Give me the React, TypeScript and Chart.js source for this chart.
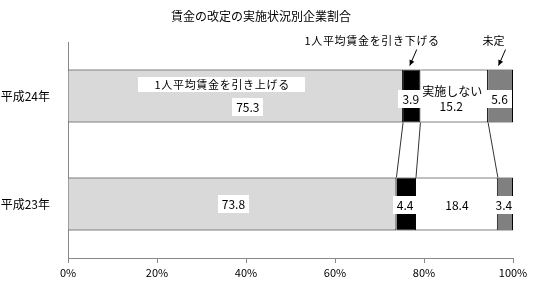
import React, { useEffect, useRef } from "react";
import { Chart, registerables } from "chart.js";

Chart.register(...registerables);

const chartTitle = "賃金の改定の実施状況別企業割合";
const categories = ["平成24年", "平成23年"];
const seriesNames = ["1人平均賃金を引き上げる", "1人平均賃金を引き下げる", "実施しない", "未定"];
const raiseValues = [75.3, 73.8];
const lowerValues = [3.9, 4.4];
const noneValues = [15.2, 18.4];
const undecidedValues = [5.6, 3.4];
const xTicks = [0, 20, 40, 60, 80, 100];

const FONT = "'Noto Sans CJK JP', 'Noto Sans', sans-serif";
const colors = ["#d9d9d9", "#000000", "#ffffff", "#808080"];

// label offsets [dataset][category] : value label dx, dy
const valueOffsets = [
  [[12, 10.5], [1, 0]],
  [[-1, 3], [-1, 0.5]],
  [[-3, 9.5], [0, 0.5]],
  [[-1, 3], [-1.5, 0.5]],
];

const overlay = {
  id: "overlay",
  afterDatasetsDraw(chart: any) {
    const ctx = chart.ctx as CanvasRenderingContext2D;
    const metas = [0, 1, 2, 3].map((i) => chart.getDatasetMeta(i));
    const el = (d: number, c: number) =>
      metas[d].data[c].getProps(["x", "y", "base", "height"], true);

    ctx.save();
    // series lines
    ctx.strokeStyle = "#333";
    ctx.lineWidth = 1;
    for (let d = 0; d < 3; d++) {
      const a = el(d, 0);
      const b = el(d, 1);
      ctx.beginPath();
      ctx.moveTo(a.x, a.y + a.height / 2);
      ctx.lineTo(b.x, b.y - b.height / 2);
      ctx.stroke();
    }

    // title
    ctx.fillStyle = "#000";
    ctx.font = `12px ${FONT}`;
    ctx.textAlign = "center";
    ctx.textBaseline = "middle";
    ctx.fillText(chartTitle, 261, 16);

    const drawBoxed = (text: string, cx: number, cy: number, padX: number, h: number, fontSize: number) => {
      ctx.font = `${fontSize}px ${FONT}`;
      const w = ctx.measureText(text).width + padX * 2;
      ctx.fillStyle = "#fff";
      ctx.fillRect(Math.round(cx - w / 2), Math.round(cy - h / 2), Math.round(w), h);
      ctx.fillStyle = "#000";
      ctx.textAlign = "center";
      ctx.textBaseline = "middle";
      ctx.fillText(text, cx, cy + 0.5);
    };

    const values = [raiseValues, lowerValues, noneValues, undecidedValues];
    for (let d = 0; d < 4; d++) {
      for (let c = 0; c < 2; c++) {
        const e = el(d, c);
        const cx = (e.x + e.base) / 2;
        const [dx, dy] = valueOffsets[d][c];
        drawBoxed(values[d][c].toFixed(1), cx + dx, e.y + dy, 4, 18, 12);
      }
    }

    // name label for raise (top bar)
    {
      const e = el(0, 0);
      const cx = (e.x + e.base) / 2;
      drawBoxed(seriesNames[0].split("").join("\u200A"), cx - 14, e.y - 12, 16, 15, 11);
    }
    // name label for none (top bar)
    {
      const e = el(2, 0);
      const cx = (e.x + e.base) / 2;
      ctx.font = `12px ${FONT}`;
      ctx.fillStyle = "#000";
      ctx.textAlign = "center";
      ctx.textBaseline = "middle";
      ctx.fillText(seriesNames[2], cx - 2, e.y - 5);
    }

    // callouts with arrows
    const callout = (d: number, text: string, tdx: number) => {
      const e = el(d, 0);
      const cx = (e.x + e.base) / 2;
      const top = e.y - e.height / 2;
      ctx.font = `11px ${FONT}`;
      ctx.fillStyle = "#000";
      ctx.textAlign = "center";
      ctx.textBaseline = "middle";
      ctx.fillText(text, cx + tdx, top - 29);
      const tx = cx - 2, ty = top - 4;
      const sx = cx + 5, sy = top - 20;
      ctx.strokeStyle = "#000";
      ctx.lineWidth = 1;
      ctx.beginPath();
      ctx.moveTo(sx, sy);
      ctx.lineTo(tx, ty);
      ctx.stroke();
      const ang = Math.atan2(ty - sy, tx - sx);
      const L = 6, W = 0.45;
      ctx.beginPath();
      ctx.moveTo(tx, ty);
      ctx.lineTo(tx - L * Math.cos(ang - W), ty - L * Math.sin(ang - W));
      ctx.lineTo(tx - L * Math.cos(ang + W), ty - L * Math.sin(ang + W));
      ctx.closePath();
      ctx.fillStyle = "#000";
      ctx.fill();
    };
    callout(1, seriesNames[1].split("").join("\u200A"), -40);
    callout(3, seriesNames[3], -7);

    ctx.restore();
  },
};

export default function App() {
  const ref = useRef<HTMLCanvasElement | null>(null);

  useEffect(() => {
    if (!ref.current) return;
    const dataSets = [raiseValues, lowerValues, noneValues, undecidedValues];
    const chart = new Chart(ref.current, {
      type: "bar",
      data: {
        labels: categories,
        datasets: dataSets.map((vals, i) => ({
          label: seriesNames[i],
          data: vals,
          backgroundColor: colors[i],
          borderColor: "#000",
          borderWidth: 1,
          borderSkipped: "start",
          categoryPercentage: 1,
          barPercentage: 0.49,
        })),
      },
      options: {
        indexAxis: "y",
        responsive: true,
        maintainAspectRatio: false,
        animation: false,
        layout: { padding: { top: 42, right: 29, left: 0, bottom: 0 } },
        plugins: {
          legend: { display: false },
          title: { display: false },
          tooltip: { enabled: false },
        },
        scales: {
          x: {
            stacked: true,
            min: 0,
            max: 100,
            afterBuildTicks: (scale: any) => {
              scale.ticks = xTicks.map((v) => ({ value: v }));
            },
            afterFit: (scale: any) => {
              scale.height = 32;
            },
            ticks: {
              callback: (v: any) => `${v}%`,
              color: "#000",
              font: { family: FONT, size: 11 },
              padding: 3,
              maxRotation: 0,
            },
            grid: {
              display: true,
              drawOnChartArea: false,
              drawTicks: true,
              tickLength: 5,
              color: "#888",
            },
            border: { display: true, color: "#888", width: 1 },
          },
          y: {
            stacked: true,
            afterFit: (scale: any) => {
              scale.width = 68;
            },
            ticks: {
              color: "#000",
              font: { family: FONT, size: 12 },
              padding: 10,
            },
            grid: { display: false },
            border: { display: true, color: "#888", width: 1 },
          },
        },
      },
      plugins: [overlay],
    } as any);
    return () => chart.destroy();
  }, []);

  return (
    <div style={{ position: "absolute", left: 0, top: 0, width: 542, height: 290, background: "#fff" }}>
      <canvas ref={ref} />
    </div>
  );
}
